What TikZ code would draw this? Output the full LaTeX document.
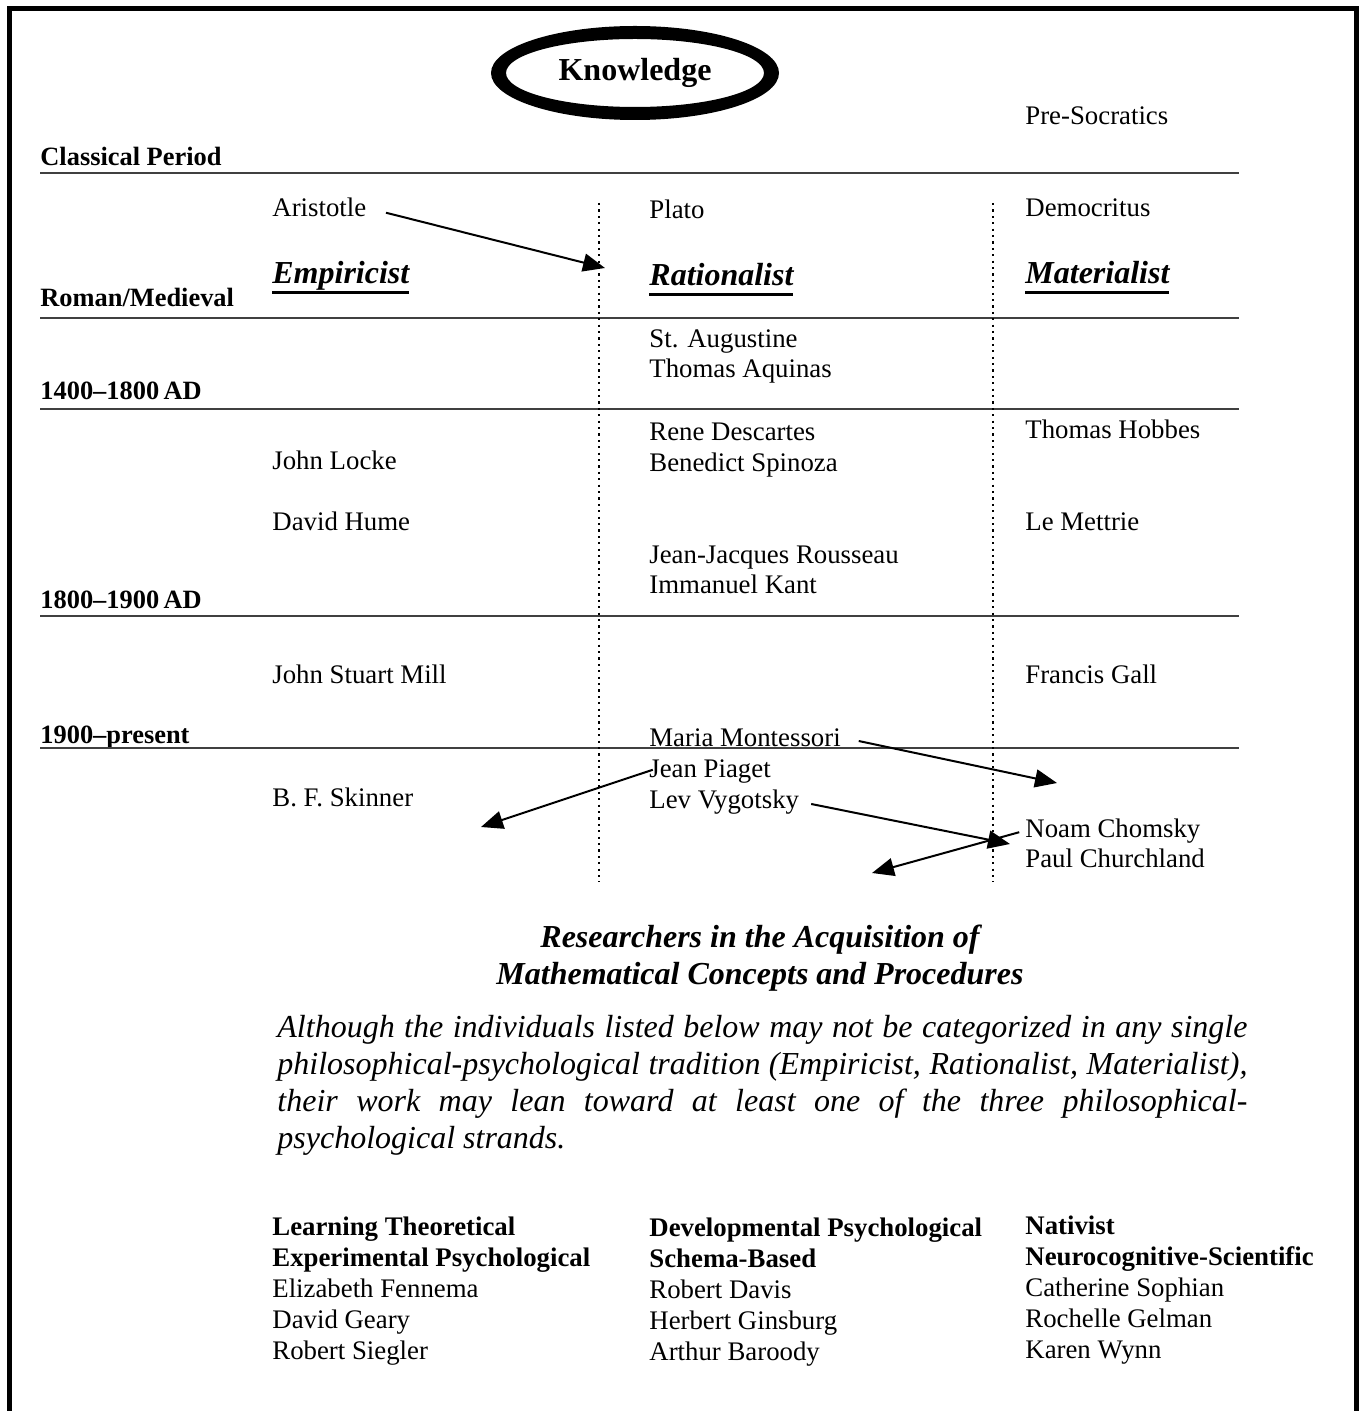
\documentclass[tikz,border=0pt]{standalone}
\usepackage{fontspec}
\setmainfont{Liberation Serif}
\newcommand{\strandul}[1]{\setbox0\hbox{#1}\rlap{\rule[-5pt]{\wd0}{1.5pt}}\box0}
\usetikzlibrary{
  arrows.meta,
  calc
}
\tikzset{
  every node/.style={inner sep=0pt},
  era/.style={anchor=base west, font=\fontsize{13.2}{15.4}\selectfont\bfseries},
  thinker/.style={anchor=base west, font=\fontsize{13.4}{15.4}\selectfont},
  school/.style={anchor=base west, font=\fontsize{16}{19}\selectfont\bfseries\itshape},
  period line/.style={black!75, line width=1pt},
  strand line/.style={line width=1.1pt, dash pattern=on 1.1pt off 2.1pt},
  lean/.style={line width=1pt, -{Triangle[length=11pt,width=9pt]}}
}

\begin{document}
\begin{tikzpicture}[x=0.5pt,y=-0.5pt]
\useasboundingbox (0,0) rectangle (1359,1411);
\draw[line width=2.5pt] (9.5,1411) -- (9.5,8.5) -- (1356.5,8.5) -- (1356.5,1411);

\node[font=\fontsize{16}{19}\selectfont\bfseries] (knowledge) at (635,73) {Knowledge};
\fill[even odd rule] (knowledge.center) ellipse [x radius=144, y radius=47]
  (knowledge.center) ellipse [x radius=129, y radius=34];

% periods
\node[era] (classical) at (40,166) {Classical Period};
\node[era] (roman) at (40,307) {Roman/Medieval};
\node[era] (early) at (40,400) {1400--1800\,AD};
\node[era] (late) at (40,608) {1800--1900\,AD};
\node[era] (present) at (40,743) {1900--present};
\foreach \y in {173,318,409,616,748}
  \draw[period line] (40,\y) -- (1239,\y);
\draw[strand line] (599,203) -- (599,882);
\draw[strand line] (993,203) -- (993,882);

% the three strands
\node[school] (empiricist) at (272,284) {\strandul{Empiricist}};
\node[school] (rationalist) at (649,286) {\strandul{Rationalist}};
\node[school] (materialist) at (1025,284) {\strandul{Materialist}};

\node[thinker] (presocratics) at (1025,125) {Pre-Socratics};
\node[thinker] (aristotle) at (272,217) {Aristotle};
\node[thinker] (plato) at (649,219) {Plato};
\node[thinker] (democritus) at (1025,217) {Democritus};
\node[thinker] (augustine) at (649,348) {St. Augustine};
\node[thinker] (aquinas) at (649,378) {Thomas Aquinas};
\node[thinker] (descartes) at (649,440) {Rene Descartes};
\node[thinker] (spinoza) at (649,471) {Benedict Spinoza};
\node[thinker] (hobbes) at (1025,438) {Thomas Hobbes};
\node[thinker] (locke) at (272,469) {John Locke};
\node[thinker] (hume) at (272,530) {David Hume};
\node[thinker] (mettrie) at (1025,530) {Le Mettrie};
\node[thinker] (rousseau) at (649,563) {Jean-Jacques Rousseau};
\node[thinker] (kant) at (649,593) {Immanuel Kant};
\node[thinker] (mill) at (272,683) {John Stuart Mill};
\node[thinker] (gall) at (1025,683) {Francis Gall};
\node[thinker] (montessori) at (649,746) {Maria Montessori};
\node[thinker] (piaget) at (649,777) {Jean Piaget};
\node[thinker] (vygotsky) at (649,808) {Lev Vygotsky};
\node[thinker] (skinner) at (272,806) {B. F. Skinner};
\node[thinker] (chomsky) at (1025,837) {Noam Chomsky};
\node[thinker] (churchland) at (1025,867) {Paul Churchland};

\coordinate (aristip) at (605,268);
\coordinate (montip) at (1057,783);
\coordinate (piatip) at (481,827);
\coordinate (vygtip) at (1010,844);
\coordinate (chomtip) at (872,873);
\draw[lean, shorten <=10pt] (aristotle.east) -- (aristip);
\draw[lean, shorten <=9pt] (montessori.east) -- (montip);
\draw[lean, shorten <=-2pt] (piaget.west) -- (piatip);
\draw[lean, shorten <=6pt] (vygotsky.east) -- (vygtip);
\draw[lean, shorten <=3pt] (chomsky.west) -- (chomtip);

% researchers (base = last line)
\node[anchor=base, align=center, font=\fontsize{16}{18.5}\selectfont\bfseries\itshape]
  (title) at (760,984) {Researchers in the Acquisition of\\Mathematical Concepts and Procedures};
\node[anchor=base west, align=left, font=\fontsize{16}{18.5}\selectfont\itshape] (note) at (277,1148)
  {\makebox[485pt][s]{Although the individuals listed below may not be categorized in any single}\\
   \makebox[485pt][s]{philosophical-psychological tradition (Empiricist, Rationalist, Materialist),}\\
   \makebox[485pt][s]{their work may lean toward at least one of the three philosophical-}\\
   psychological strands.};
\node[thinker, align=left] (learning) at (272,1359)
  {\textbf{Learning Theoretical}\\\textbf{Experimental Psychological}\\Elizabeth Fennema\\David Geary\\Robert Siegler};
\node[thinker, align=left] (developmental) at (649,1360)
  {\textbf{Developmental Psychological}\\\textbf{Schema-Based}\\Robert Davis\\Herbert Ginsburg\\Arthur Baroody};
\node[thinker, align=left] (nativist) at (1025,1358)
  {\textbf{Nativist}\\\textbf{Neurocognitive-Scientific}\\Catherine Sophian\\Rochelle Gelman\\Karen Wynn};
\end{tikzpicture}
\end{document}
